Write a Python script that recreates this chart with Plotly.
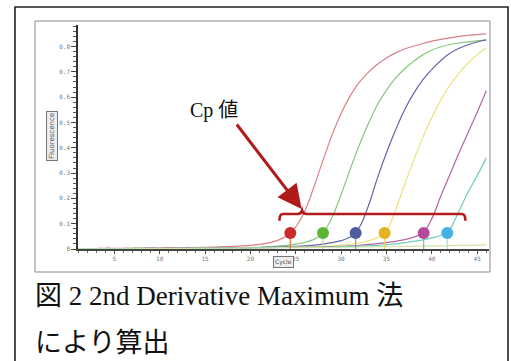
import plotly.graph_objects as go

# ---------------- data ----------------
cycles = list(range(1, 47))

red_vals = [0.002, 0.002, 0.002, 0.003, 0.003, 0.003, 0.003, 0.004, 0.004, 0.004,
            0.005, 0.005, 0.006, 0.006, 0.007, 0.008, 0.009, 0.010, 0.012, 0.014,
            0.018, 0.024, 0.034, 0.052, 0.087, 0.150, 0.245, 0.350, 0.450, 0.535,
            0.605, 0.658, 0.698, 0.730, 0.755, 0.775, 0.790, 0.802, 0.812, 0.821,
            0.828, 0.834, 0.840, 0.844, 0.847, 0.850]
green_vals = [0.001, 0.001, 0.002, 0.002, 0.002, 0.002, 0.003, 0.003, 0.003, 0.003,
              0.003, 0.004, 0.004, 0.004, 0.004, 0.005, 0.005, 0.005, 0.005, 0.006,
              0.007, 0.009, 0.011, 0.014, 0.019, 0.026, 0.038, 0.063, 0.125, 0.215,
              0.315, 0.410, 0.495, 0.570, 0.628, 0.675, 0.712, 0.742, 0.767, 0.786,
              0.799, 0.808, 0.814, 0.818, 0.822, 0.826]
blue_vals = [0.001, 0.001, 0.001, 0.002, 0.002, 0.002, 0.002, 0.002, 0.003, 0.003,
             0.003, 0.003, 0.003, 0.004, 0.004, 0.004, 0.004, 0.005, 0.005, 0.005,
             0.006, 0.007, 0.008, 0.009, 0.010, 0.012, 0.015, 0.019, 0.025, 0.033,
             0.047, 0.085, 0.170, 0.280, 0.380, 0.470, 0.550, 0.615, 0.668, 0.710,
             0.745, 0.773, 0.793, 0.807, 0.818, 0.826]
yellow_vals = [0.001, 0.001, 0.001, 0.001, 0.002, 0.002, 0.002, 0.002, 0.002, 0.003,
               0.003, 0.003, 0.003, 0.003, 0.004, 0.004, 0.004, 0.004, 0.005, 0.005,
               0.005, 0.006, 0.006, 0.007, 0.008, 0.008, 0.009, 0.010, 0.012, 0.015,
               0.019, 0.024, 0.032, 0.045, 0.072, 0.155, 0.255, 0.350, 0.440, 0.520,
               0.590, 0.648, 0.695, 0.735, 0.768, 0.795]
magenta_vals = [0.001, 0.001, 0.001, 0.001, 0.001, 0.002, 0.002, 0.002, 0.002, 0.002,
                0.003, 0.003, 0.003, 0.003, 0.003, 0.004, 0.004, 0.004, 0.004, 0.005,
                0.005, 0.005, 0.006, 0.006, 0.006, 0.007, 0.007, 0.008, 0.009, 0.010,
                0.012, 0.014, 0.018, 0.021, 0.025, 0.030, 0.037, 0.047, 0.062, 0.120,
                0.210, 0.295, 0.380, 0.460, 0.540, 0.625]
cyan_vals = [0.001, 0.001, 0.001, 0.001, 0.001, 0.001, 0.002, 0.002, 0.002, 0.002,
             0.002, 0.003, 0.003, 0.003, 0.003, 0.003, 0.004, 0.004, 0.004, 0.004,
             0.005, 0.005, 0.005, 0.006, 0.006, 0.006, 0.007, 0.007, 0.008, 0.009,
             0.010, 0.011, 0.012, 0.014, 0.017, 0.020, 0.025, 0.030, 0.036, 0.044,
             0.054, 0.080, 0.150, 0.225, 0.290, 0.360]
pale_vals = [0.001, 0.001, 0.001, 0.001, 0.001, 0.001, 0.001, 0.002, 0.002, 0.002,
             0.002, 0.002, 0.002, 0.003, 0.003, 0.003, 0.003, 0.003, 0.004, 0.004,
             0.004, 0.004, 0.005, 0.005, 0.005, 0.005, 0.006, 0.006, 0.006, 0.007,
             0.007, 0.008, 0.008, 0.009, 0.009, 0.010, 0.010, 0.011, 0.011, 0.012,
             0.012, 0.013, 0.014, 0.014, 0.015, 0.016]

series_names = ["red", "green", "blue", "yellow", "magenta", "cyan", "pale"]
series_vals = [red_vals, green_vals, blue_vals, yellow_vals, magenta_vals, cyan_vals, pale_vals]
series_colors = ["#dc7f84", "#86c979", "#6367ad", "#ece27e", "#b564a8", "#6fcdbd", "#cfe6a8"]

cp_cycles = [24.4, 28.0, 31.6, 34.8, 39.1, 41.7]
cp_values = [0.063, 0.063, 0.063, 0.063, 0.063, 0.063]
cp_colors = ["#c92a2c", "#5db536", "#4d5c9c", "#e2b424", "#b54a9c", "#45b2e2"]
stem_colors = ["#e07a3a", "#b9dc9a", "#8a93bf", "#ecd46a", "#a8a8a8", "#a8dcef"]

y_ticks = [0, 0.1, 0.2, 0.3, 0.4, 0.5, 0.6, 0.7, 0.8]
x_ticks = [5, 10, 15, 20, 25, 30, 35, 40, 45]

# ---------------- layout helpers (pixel -> paper) ----------------
L, R, T, B = 78, 489, 25, 249
W, H = 511, 361


def px(x):
    return (x - L) / (R - L)


def py(y):
    return (B - y) / (B - T)


fig = go.Figure()

for name, vals, col in zip(series_names, series_vals, series_colors):
    fig.add_trace(go.Scatter(x=cycles, y=vals, mode="lines", name=name,
                             line=dict(color=col, width=1.2, shape="spline"),
                             hoverinfo="skip", showlegend=False))

for c, v, sc in zip(cp_cycles, cp_values, stem_colors):
    fig.add_trace(go.Scatter(x=[c, c], y=[-0.012, v], mode="lines",
                             line=dict(color=sc, width=1.2),
                             hoverinfo="skip", showlegend=False, cliponaxis=False))

fig.add_trace(go.Scatter(x=cp_cycles, y=cp_values, mode="markers",
                         marker=dict(size=12, color=cp_colors, line=dict(width=0)),
                         hoverinfo="skip", showlegend=False, cliponaxis=False))

# bracket
fig.add_shape(type="path", xref="x", yref="y",
              path=("M 23.2,0.112 Q 23.2,0.138 23.6,0.138 L 25.2,0.138 "
                    "Q 25.6,0.139 25.7,0.152 Q 25.8,0.139 26.2,0.138 "
                    "L 43.3,0.138 Q 43.7,0.138 43.7,0.112"),
              line=dict(color="#b3191b", width=2.6))

# arrow
fig.add_annotation(x=25.65, y=0.158, xref="x", yref="y", ax=-66, ay=-86,
                   text="", showarrow=True, arrowhead=2, arrowsize=1.6,
                   arrowwidth=3, arrowcolor="#b01a1a", standoff=0)

# Cp label
fig.add_annotation(x=px(214), y=py(110), xref="paper", yref="paper",
                   text="Cp 値", showarrow=False, xanchor="center", yanchor="middle",
                   font=dict(family="Liberation Serif, Noto Sans CJK JP", size=20, color="#111"))

# axis titles (boxed)
fig.add_annotation(x=px(46), y=py(136), xref="paper", yref="paper",
                   text="Fluorescence", textangle=-90, showarrow=False,
                   font=dict(family="DejaVu Sans", size=7, color="#555"),
                   bordercolor="#777", borderwidth=1, borderpad=1, bgcolor="#eee")
fig.add_annotation(x=px(283), y=py(268), xref="paper", yref="paper",
                   text="Cycle", showarrow=False,
                   font=dict(family="DejaVu Sans", size=6, color="#555"),
                   bordercolor="#777", borderwidth=1, borderpad=1, bgcolor="#eee")

# caption
fig.add_annotation(x=px(33), y=py(296), xref="paper", yref="paper",
                   text="図 2 2nd Derivative Maximum 法", showarrow=False,
                   xanchor="left", yanchor="middle",
                   font=dict(family="Liberation Serif, Noto Sans CJK JP", size=27, color="#111"))
fig.add_annotation(x=px(33), y=py(340), xref="paper", yref="paper",
                   text="により算出", showarrow=False,
                   xanchor="left", yanchor="middle",
                   font=dict(family="Noto Sans CJK JP", size=27, color="#111"))

# frames
fig.add_shape(type="rect", xref="paper", yref="paper",
              x0=px(35), x1=px(490), y0=py(272), y1=py(21),
              line=dict(color="#8a8a8a", width=1), layer="below")
fig.add_shape(type="rect", xref="paper", yref="paper",
              x0=px(15), x1=px(508), y0=py(380), y1=py(7),
              line=dict(color="#222", width=1.6), layer="below")

fig.update_layout(
    width=W, height=H,
    margin=dict(l=L, r=W - R, t=T, b=H - B),
    paper_bgcolor="white", plot_bgcolor="white",
    xaxis=dict(range=[1, 46.3], tickvals=x_ticks, ticks="outside", ticklen=3,
               tickcolor="#444", tickwidth=1, showgrid=False, zeroline=False,
               showline=True, linecolor="#444", linewidth=1.5,
               tickfont=dict(family="DejaVu Sans Mono", size=6, color="#777"),
               minor=dict(dtick=1, ticks="outside", ticklen=2, tickcolor="#666")),
    yaxis=dict(range=[0, 0.885], tickvals=y_ticks, ticks="outside", ticklen=5,
               tickcolor="#444", tickwidth=1, showgrid=False, zeroline=False,
               showline=True, linecolor="#333", linewidth=1.5,
               tickfont=dict(family="DejaVu Sans Mono", size=6, color="#777"),
               minor=dict(dtick=0.02, ticks="outside", ticklen=3, tickcolor="#555")),
)

fig.write_html("out.html", config={"displayModeBar": False},
               post_script="document.body.style.margin='0';document.body.style.overflow='hidden';")
